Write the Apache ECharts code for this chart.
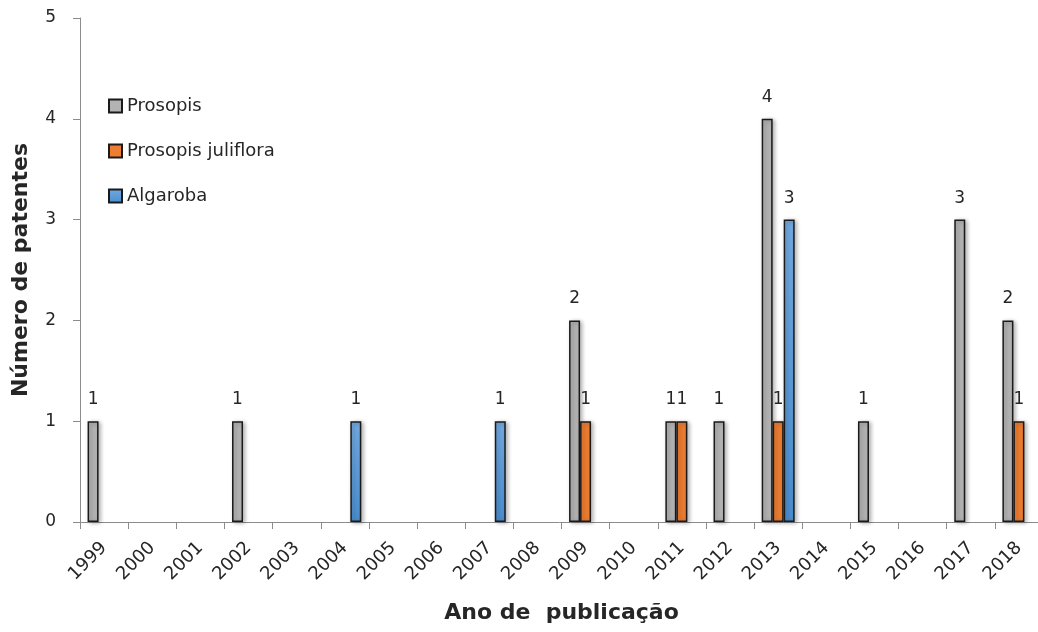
<!DOCTYPE html>
<html>
<head>
<meta charset="utf-8">
<script src="https://cdn.jsdelivr.net/npm/echarts@6/dist/echarts.min.js"></script>
<style>html,body{margin:0;padding:0;background:#fff}#c{width:1038px;height:632px}</style>
</head>
<body>
<div id="c"></div>
<script>
var years = ['1999','2000','2001','2002','2003','2004','2005','2006','2007','2008','2009','2010','2011','2012','2013','2014','2015','2016','2017','2018'];
var prosopis =   [1,null,null,1,null,null,null,null,null,null,2,null,1,1,4,null,1,null,3,2];
var juliflora =  [null,null,null,null,null,null,null,null,null,null,1,null,1,null,1,null,null,null,null,1];
var algaroba =   [null,null,null,null,null,1,null,null,1,null,null,null,null,null,3,null,null,null,null,null];
var yTicks = [0,1,2,3,4,5];

var font = 'DejaVu Sans';
var txt = '#262626';
function mk(name, data, color) {
  return {
    name: name, type: 'bar', data: data, barWidth: 11, barGap: '0%',
    itemStyle: { color: color, borderColor: '#1a1a1a', borderWidth: 1.5,
      shadowBlur: 4, shadowColor: 'rgba(0,0,0,0.3)', shadowOffsetX: 2, shadowOffsetY: 1 },
    label: { show: true, position: 'top', distance: 13, fontFamily: font, fontSize: 17, color: txt }
  };
}
var chart = echarts.init(document.getElementById('c'));
chart.setOption({
  animation: false,
  grid: { left: 80, right: -5, top: 18, bottom: 110, outerBoundsMode: 'none', containLabel: false },
  legend: {
    orient: 'vertical', left: 103, top: 90, itemWidth: 13, itemHeight: 13, itemGap: 23, icon: 'rect',
    textStyle: { fontFamily: font, fontSize: 18, color: txt, lineHeight: 22 },
    data: ['Prosopis', 'Prosopis juliflora', 'Algaroba']
  },
  xAxis: {
    type: 'category', data: years,
    name: 'Ano de  publicação', nameLocation: 'middle', nameGap: 80, nameMoveOverlap: false,
    nameTextStyle: { fontFamily: font, fontSize: 22, fontWeight: 'bold', color: txt },
    axisLine: { lineStyle: { color: '#8c8c8c', width: 1 } },
    axisTick: { show: true, length: 7, lineStyle: { color: '#8c8c8c' } },
    axisLabel: { rotate: 45, margin: 23, fontFamily: font, fontSize: 18, color: txt, interval: 0 }
  },
  yAxis: {
    type: 'value', min: 0, max: 5, interval: 1,
    name: 'Número de patentes', nameLocation: 'middle', nameGap: 48, nameMoveOverlap: false,
    nameTextStyle: { fontFamily: font, fontSize: 22, fontWeight: 'bold', color: txt },
    splitLine: { show: false },
    axisLine: { show: true, lineStyle: { color: '#8c8c8c', width: 1 } },
    axisTick: { show: true, length: 7, lineStyle: { color: '#8c8c8c' } },
    axisLabel: { margin: 24, fontFamily: font, fontSize: 17, color: txt,
      formatter: function (v) { return yTicks.indexOf(v) >= 0 ? String(v) : ''; } }
  },
  series: [
    mk('Prosopis', prosopis, '#b3b3b3'),
    mk('Prosopis juliflora', juliflora, '#ed7d31'),
    mk('Algaroba', algaroba, new echarts.graphic.LinearGradient(0, 0, 0, 1, [
      { offset: 0, color: '#72aae2' }, { offset: 1, color: '#4a8ecf' }]))
  ]
});
</script>
</body>
</html>
